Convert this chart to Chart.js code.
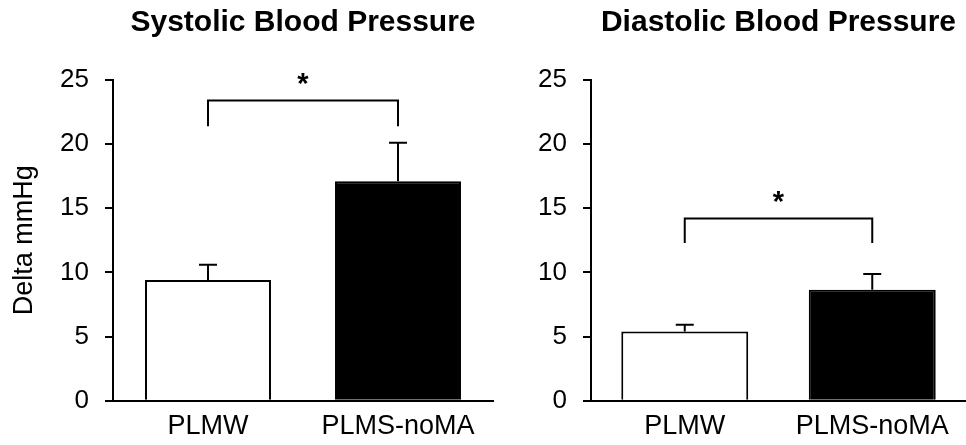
<!DOCTYPE html>
<html>
<head>
<meta charset="utf-8">
<script src="https://cdn.jsdelivr.net/npm/chart.js@4.4.1/dist/chart.umd.min.js"></script>
<style>
  body { margin: 0; background: #fff; }
  .panel { position: absolute; top: 0; }
</style>
</head>
<body>
<div class="panel" style="left:0"><canvas id="sysChart" width="500" height="445"></canvas></div>
<div class="panel" style="left:500px"><canvas id="diaChart" width="466" height="445"></canvas></div>
<script>
  /** DATA */
  const groups = ['PLMW', 'PLMS-noMA'];
  const systolicMean = [9.4, 17.1];
  const systolicErr = [1.2, 3.0];
  const diastolicMean = [5.4, 8.65];
  const diastolicErr = [0.52, 1.22];
  // significance bracket: [leg bottom, bracket top] in mmHg
  const systolicBracket = [21.4, 23.4];
  const diastolicBracket = [12.3, 14.2];
  const yMin = 0, yMax = 25, yStep = 5;

  const FONT = '"Liberation Sans", Arial, sans-serif';
  Chart.defaults.font.family = FONT;
  Chart.defaults.color = '#000';

  // error bars + significance bracket
  const annotate = {
    id: 'annotate',
    afterDatasetsDraw(chart, args, opts) {
      const { ctx } = chart;
      const x = chart.scales.x, y = chart.scales.y;
      ctx.save();
      ctx.strokeStyle = '#000';
      ctx.lineWidth = 2;
      opts.means.forEach((m, i) => {
        const cx = x.getPixelForValue(i);
        const y0 = y.getPixelForValue(m);
        const y1 = y.getPixelForValue(m + opts.errors[i]);
        ctx.beginPath();
        ctx.moveTo(cx, y0);
        ctx.lineTo(cx, y1);
        ctx.moveTo(cx - 9, y1);
        ctx.lineTo(cx + 9, y1);
        ctx.stroke();
      });
      const xa = x.getPixelForValue(0), xb = x.getPixelForValue(1);
      const yLeg = y.getPixelForValue(opts.bracket[0]);
      const yTop = y.getPixelForValue(opts.bracket[1]);
      ctx.beginPath();
      ctx.moveTo(xa, yLeg);
      ctx.lineTo(xa, yTop);
      ctx.lineTo(xb, yTop);
      ctx.lineTo(xb, yLeg);
      ctx.stroke();
      ctx.fillStyle = '#000';
      ctx.font = 'bold 29px ' + FONT;
      ctx.textAlign = 'center';
      ctx.textBaseline = 'alphabetic';
      ctx.fillText('*', (xa + xb) / 2, yTop - 8);
      ctx.restore();
    }
  };

  function makeChart(id, title, means, errors, bracket, yTitle, axisWidth, barPct, padRight) {
    const ctx = document.getElementById(id);
    return new Chart(ctx, {
      type: 'bar',
      data: {
        labels: groups,
        datasets: [{
          data: means,
          backgroundColor: ['#fff', '#000'],
          borderColor: '#000',
          borderWidth: 2,
          categoryPercentage: 1,
          barPercentage: barPct,
        }],
      },
      options: {
        responsive: false,
        animation: false,
        layout: { padding: { top: 0, right: padRight, bottom: 0, left: 0 } },
        plugins: {
          legend: { display: false },
          tooltip: { enabled: false },
          title: {
            display: true,
            text: title,
            fullSize: false,
            color: '#000',
            font: { size: 30, weight: 'bold' },
            padding: { top: 5, bottom: 39 },
          },
          annotate: { means: means, errors: errors, bracket: bracket },
        },
        scales: {
          x: {
            grid: { display: false, drawTicks: false },
            border: { display: true, color: '#000', width: 2 },
            ticks: { color: '#000', font: { size: 27 }, padding: 10 },
            afterFit(scale) { scale.height = 44.3; },
          },
          y: {
            min: yMin,
            max: yMax,
            ticks: { stepSize: yStep, color: '#000', font: { size: 26 }, padding: 16 },
            grid: { display: true, drawOnChartArea: false, drawTicks: true, tickLength: 8, color: '#000', lineWidth: 2 },
            border: { display: true, color: '#000', width: 2 },
            title: {
              display: !!yTitle,
              text: yTitle,
              color: '#000',
              font: { size: 27 },
              padding: { top: 8, bottom: 0 },
            },
            afterFit(scale) { scale.width = axisWidth; },
          },
        },
      },
      plugins: [annotate],
    });
  }

  makeChart('sysChart', 'Systolic Blood Pressure', systolicMean, systolicErr, systolicBracket, 'Delta mmHg', 113, 0.663, 7);
  makeChart('diaChart', 'Diastolic Blood Pressure', diastolicMean, diastolicErr, diastolicBracket, '', 91, 0.677, 0);
</script>
</body>
</html>
